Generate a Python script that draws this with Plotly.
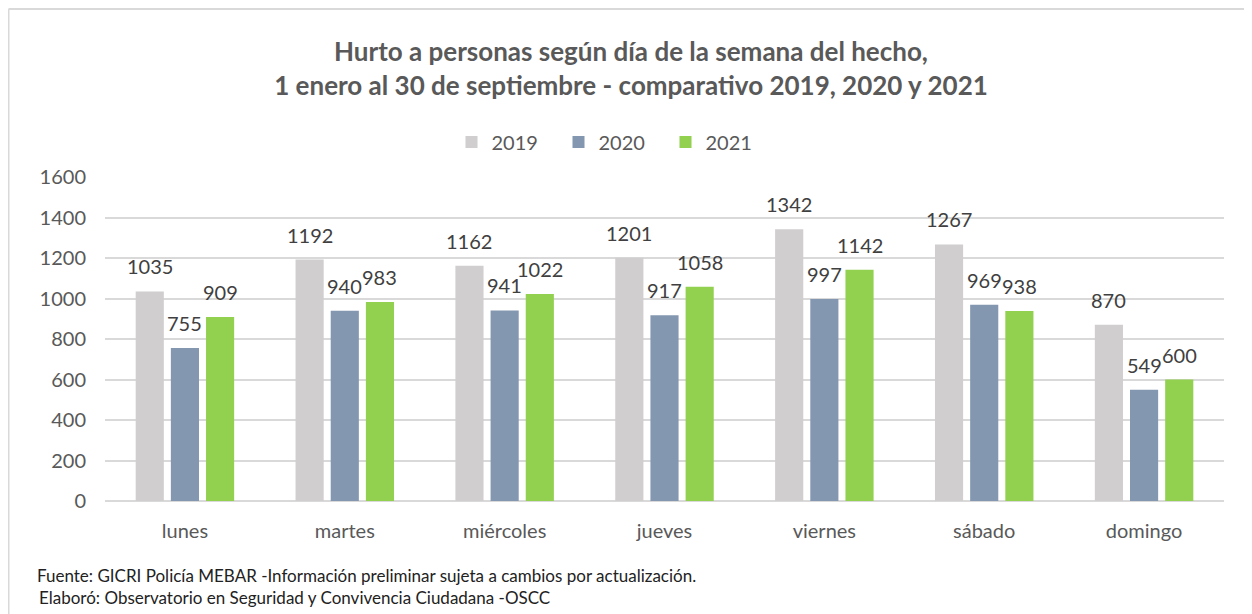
import plotly.graph_objects as go

days = ["lunes", "martes", "miércoles", "jueves", "viernes", "sábado", "domingo"]
v2019 = [1035, 1192, 1162, 1201, 1342, 1267, 870]
v2020 = [755, 940, 941, 917, 997, 969, 549]
v2021 = [909, 983, 1022, 1058, 1142, 938, 600]
years = ["2019", "2020", "2021"]
colors = ["#D0CECE", "#8497B0", "#92D050"]
yticks = [0, 200, 400, 600, 800, 1000, 1200, 1400, 1600]

FONT = "Lato"
# page has an 8px body margin, so the figure is placed at (8, 8)
W, H = 1244, 606
L, R, T, B = 97, 28, 169, 113
pw, ph = W - L - R, H - T - B
BARGAP, GROUPGAP = 0.34, 0.2
slot = pw / len(days) * (1 - BARGAP) / len(years)

def px(x):
    return (x - L) / pw

def py(y):
    return (H - B - y) / ph

fig = go.Figure()
annotations = []
for i, (name, vals, c) in enumerate(zip(years, [v2019, v2020, v2021], colors)):
    fig.add_trace(go.Bar(
        x=days, y=vals, name=name, marker=dict(color=c, line=dict(width=0)),
        hoverinfo="x+y+name",
    ))
    for d, v in zip(days, vals):
        annotations.append(dict(
            x=d, y=v, xref="x", yref="y", text=str(v), showarrow=False,
            xshift=(i - 1) * slot, yshift=25, xanchor="center", yanchor="middle",
            font=dict(family=FONT, size=20, color="#404040"),
        ))

annotations += [
    dict(text="Fuente: GICRI Policía MEBAR -Información preliminar sujeta a cambios por actualización.",
         xref="paper", yref="paper", x=px(27), y=py(567), xanchor="left", yanchor="middle",
         showarrow=False, font=dict(family=FONT, size=17, color="#222222")),
    dict(text="Elaboró: Observatorio en Seguridad y Convivencia Ciudadana -OSCC",
         xref="paper", yref="paper", x=px(29), y=py(589), xanchor="left", yanchor="middle",
         showarrow=False, font=dict(family=FONT, size=17, color="#222222")),
]

fig.update_layout(
    width=W, height=H,
    margin=dict(l=L, r=R, t=T, b=B),
    paper_bgcolor="white", plot_bgcolor="white",
    barmode="group", bargap=BARGAP, bargroupgap=GROUPGAP,
    font=dict(family=FONT, color="#595959"),
    title=dict(
        text="Hurto a personas según día de la semana del hecho,<br>1 enero al 30 de septiembre - comparativo 2019, 2020 y 2021",
        xref="container", x=623 / W, xanchor="center",
        yref="container", y=1 - 53 / H, yanchor="middle",
        font=dict(family=FONT, size=26, color="#595959", weight="bold"),
    ),
    legend=dict(
        orientation="h", x=px(604), xanchor="center", y=py(134), yanchor="middle",
        font=dict(family=FONT, size=20, color="#595959"),
        itemwidth=30, traceorder="normal", entrywidth=62, entrywidthmode="pixels",
    ),
    showlegend=True,
    xaxis=dict(
        showgrid=False, showline=False, zeroline=False, ticks="",
        tickfont=dict(family=FONT, size=20, color="#595959"),
        ticklabelstandoff=16,
    ),
    yaxis=dict(
        range=[0, 1600], tickvals=yticks, showgrid=True, gridcolor="#D9D9D9", gridwidth=1.5,
        zeroline=True, zerolinecolor="#D9D9D9", zerolinewidth=1.5, showline=False, ticks="",
        tickfont=dict(family=FONT, size=20, color="#595959"),
        ticklabelstandoff=18,
    ),
    shapes=[
        dict(type="line", xref="paper", yref="paper", x0=px(0.5), x1=px(W), y0=py(1), y1=py(1),
             line=dict(color="#D9D9D9", width=2)),
        dict(type="line", xref="paper", yref="paper", x0=px(0.5), x1=px(0.5), y0=py(1), y1=py(H),
             line=dict(color="#D9D9D9", width=2)),
    ],
    annotations=annotations,
)

fig.write_html("out.html")
